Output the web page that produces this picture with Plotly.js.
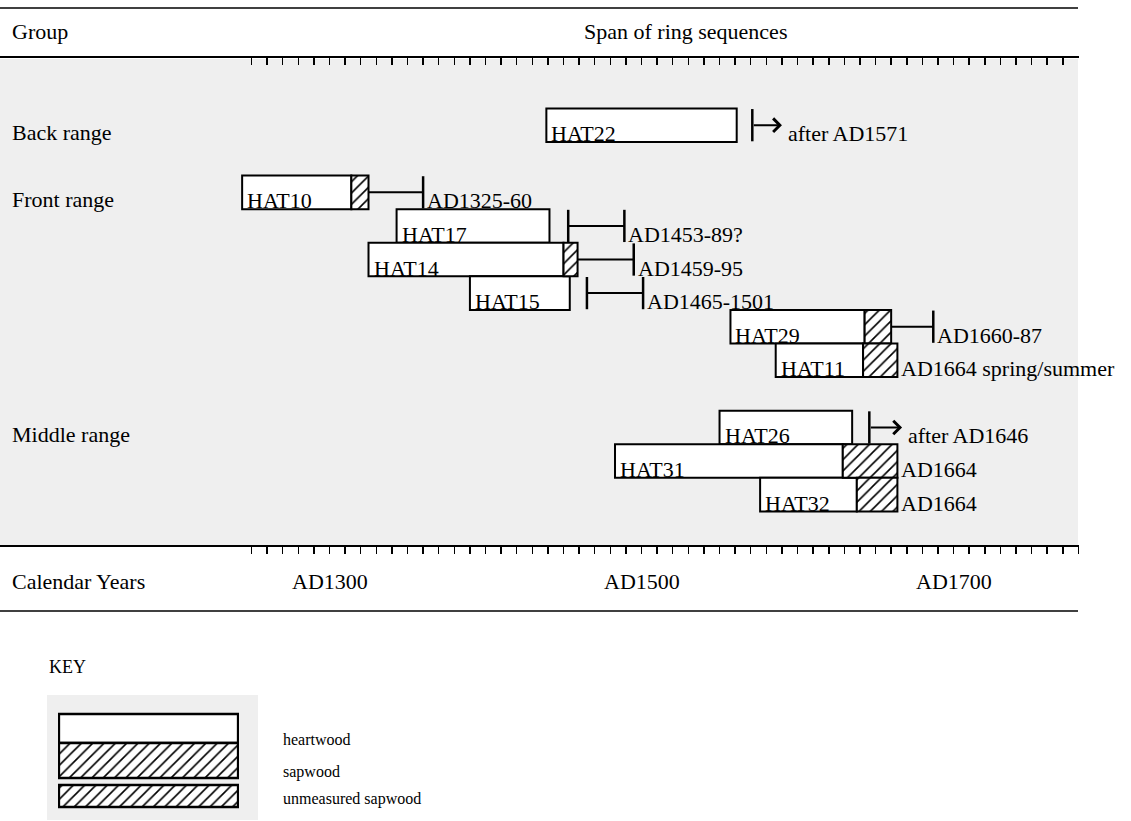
<!DOCTYPE html>
<html>
<head>
<meta charset="utf-8">
<script src="https://cdn.plot.ly/plotly-3.0.1.min.js"></script>
<style>
html,body{margin:0;padding:0;background:#fff;}
#chart{width:1131px;height:821px;}
</style>
</head>
<body>
<div id="chart"></div>
<script>
// ---------------- data ----------------
const samples    = ['HAT22','HAT10','HAT17','HAT14','HAT15','HAT29','HAT11','HAT26','HAT31','HAT32'];
const rowPos     = [0, 2, 3, 4, 5, 6, 7, 9, 10, 11];
const startYear  = [1439, 1244, 1343, 1325, 1390, 1557, 1586, 1550, 1483, 1576];
const heartEnd   = [1561, 1314, 1441, 1450, 1454, 1643, 1642, 1635, 1629, 1638];
const sapEnd     = [1561, 1325, 1441, 1459, 1454, 1660, 1664, 1635, 1664, 1664];
const rangeStart = [1571, 1325, 1453, 1459, 1465, 1660, null, 1646, null, null];
const rangeEnd   = [1590, 1360, 1489, 1495, 1501, 1687, null, 1667, null, null];
const startTick  = [true, false, true, false, true, false, false, true, false, false];
const endKind    = ['arrow','bar','bar','bar','bar','bar', null, 'arrow', null, null];
const dateLabels = ['after AD1571','AD1325-60','AD1453-89?','AD1459-95','AD1465-1501','AD1660-87',
                    'AD1664 spring/summer','after AD1646','AD1664','AD1664'];
const groupNames = ['Back range','Front range','Middle range'];
const groupRows  = [0, 2, 9];
const axisLabelYears = [1300, 1500, 1700];
const axisLabelText  = ['AD1300','AD1500','AD1700'];
const keyLabels  = ['heartwood','sapwood','unmeasured sapwood'];
const keyHatched = [false, true, true];

// ---------------- layout constants ----------------
const W = 1131, H = 821;
const px = v => v / W;            // pixel -> paper x
const py = v => (H - v) / H;      // pixel -> paper y
const FONT = '"Liberation Serif", "Times New Roman", Times, serif';
const BG = '#efefef';
const hatch = {shape: '/', fgcolor: '#000', bgcolor: '#fff', size: 8, solidity: 0.2};

const majorTicks = [], minorTicks = [];
for (let y = 1250; y <= 1750; y += 50) majorTicks.push(y);
for (let y = 1250; y <= 1780; y += 10) minorTicks.push(y);

// ---------------- traces ----------------
const traces = [];
// heartwood
traces.push({
  type: 'bar', orientation: 'h', xaxis: 'x', yaxis: 'y',
  y: rowPos, base: startYear, x: startYear.map((s, i) => heartEnd[i] - s),
  width: 1, marker: {color: '#fff', line: {color: '#000', width: 2}},
  hoverinfo: 'skip', showlegend: false
});
// sapwood
const sapIdx = samples.map((_, i) => i).filter(i => sapEnd[i] > heartEnd[i]);
traces.push({
  type: 'bar', orientation: 'h', xaxis: 'x', yaxis: 'y',
  y: sapIdx.map(i => rowPos[i]), base: sapIdx.map(i => heartEnd[i]),
  x: sapIdx.map(i => sapEnd[i] - heartEnd[i]),
  width: 1, marker: {color: '#fff', pattern: hatch, line: {color: '#000', width: 2}},
  hoverinfo: 'skip', showlegend: false
});
// connectors and range ticks
const hx = [], hy = [], vx = [], vy = [];
samples.forEach((s, i) => {
  if (rangeStart[i] === null) return;
  const r = rowPos[i];
  if (endKind[i] === 'bar') { hx.push(rangeStart[i], rangeEnd[i], null); hy.push(r, r, null); }
  if (startTick[i]) { vx.push(rangeStart[i], rangeStart[i], null); vy.push(r - 0.48, r + 0.48, null); }
  if (endKind[i] === 'bar') { vx.push(rangeEnd[i], rangeEnd[i], null); vy.push(r - 0.48, r + 0.48, null); }
});
traces.push({type: 'scatter', mode: 'lines', xaxis: 'x2', yaxis: 'y', x: hx, y: hy,
  line: {color: '#000', width: 2}, hoverinfo: 'skip', showlegend: false, cliponaxis: false});
traces.push({type: 'scatter', mode: 'lines', xaxis: 'x', yaxis: 'y', x: vx, y: vy,
  line: {color: '#000', width: 2.5}, hoverinfo: 'skip', showlegend: false, cliponaxis: false});

// key swatches
const KEY = {yc: [728.5, 760.5, 796], h: [29, 35, 22]};
keyLabels.forEach((k, i) => {
  traces.push({
    type: 'bar', orientation: 'h', xaxis: 'x3', yaxis: 'y3',
    y: [KEY.yc[i]], base: [0], x: [1], width: [KEY.h[i]],
    marker: keyHatched[i] ? {color: '#fff', pattern: hatch, line: {color: '#000', width: 2.5}}
                          : {color: '#fff', line: {color: '#000', width: 2.5}},
    hoverinfo: 'skip', showlegend: false
  });
});

// ---------------- annotations ----------------
const ann = [];
const txt = (text, opts, size) => Object.assign({text, showarrow: false,
  font: {family: FONT, size: size || 22, color: '#000'}}, opts);
const TXT_SHIFT = -8.5;

samples.forEach((s, i) => {
  ann.push(txt(s, {xref: 'x', yref: 'y', x: startYear[i], y: rowPos[i], xanchor: 'left',
    yanchor: 'middle', xshift: 3, yshift: TXT_SHIFT}));
  const endX = rangeEnd[i] !== null ? rangeEnd[i] : sapEnd[i];
  ann.push(txt(dateLabels[i], {xref: 'x', yref: 'y', x: endX, y: rowPos[i], xanchor: 'left',
    yanchor: 'middle', xshift: endKind[i] === 'arrow' ? 4 : 2, yshift: TXT_SHIFT}));
  if (endKind[i] === 'arrow') {
    ann.push({xref: 'x', yref: 'y', axref: 'x', ayref: 'y', x: rangeEnd[i], y: rowPos[i],
      ax: rangeStart[i], ay: rowPos[i], text: '', showarrow: true, arrowhead: 4,
      arrowsize: 1.3, arrowwidth: 2, arrowcolor: '#000', standoff: 0, startstandoff: 0});
  }
});
groupNames.forEach((g, i) => {
  ann.push(txt(g, {xref: 'paper', yref: 'y', x: px(10), y: groupRows[i], xanchor: 'left',
    yanchor: 'middle', yshift: TXT_SHIFT + 1}));
});
ann.push(txt('Group', {xref: 'paper', yref: 'paper', x: px(10), y: py(32), xanchor: 'left', yanchor: 'middle'}));
ann.push(txt('Span of ring sequences', {xref: 'paper', yref: 'paper', x: px(685), y: py(32), xanchor: 'center', yanchor: 'middle'}));
ann.push(txt('Calendar Years', {xref: 'paper', yref: 'paper', x: px(10), y: py(581), xanchor: 'left', yanchor: 'middle'}));
axisLabelYears.forEach((yv, i) => {
  ann.push(txt(axisLabelText[i], {xref: 'x', yref: 'paper', x: yv, y: py(581), xanchor: 'center', yanchor: 'middle'}));
});
ann.push(txt('KEY', {xref: 'paper', yref: 'paper', x: px(47), y: py(667), xanchor: 'left', yanchor: 'middle'}, 18));
const keyTextY = [739, 772, 799];
keyLabels.forEach((k, i) => {
  ann.push(txt(k, {xref: 'paper', yref: 'paper', x: px(281), y: py(keyTextY[i]), xanchor: 'left', yanchor: 'middle'}, 16));
});

// ---------------- shapes ----------------
const shapes = [
  {type: 'rect', xref: 'paper', yref: 'paper', x0: 0, x1: px(1078), y0: py(545), y1: py(59),
   fillcolor: BG, line: {width: 0}, layer: 'below'},
  {type: 'rect', xref: 'paper', yref: 'paper', x0: px(47), x1: px(258), y0: py(820), y1: py(695),
   fillcolor: BG, line: {width: 0}, layer: 'below'},
  {type: 'line', xref: 'paper', yref: 'paper', x0: 0, x1: px(1078), y0: py(8), y1: py(8),
   line: {color: '#000', width: 1.5}},
  {type: 'line', xref: 'paper', yref: 'paper', x0: 0, x1: px(1078), y0: py(611), y1: py(611),
   line: {color: '#000', width: 1.5}}
];

const XR = [1088.8, 1780.4];
const tickCfg = {
  tickmode: 'array', tickvals: majorTicks, ticktext: majorTicks.map(() => ''),
  ticklen: 10, tickwidth: 1.5, tickcolor: '#000', showticklabels: false,
  showline: true, linecolor: '#000', linewidth: 2, showgrid: false, zeroline: false,
  range: XR, fixedrange: true
};
const minorCfg = dir => ({tickmode: 'array', tickvals: minorTicks, ticks: dir, ticklen: 7,
  tickwidth: 1.5, tickcolor: '#000', showgrid: false});

const layout = {
  width: W, height: H,
  margin: {l: 0, r: 0, t: 0, b: 0, pad: 0},
  paper_bgcolor: '#fff', plot_bgcolor: 'rgba(0,0,0,0)',
  barmode: 'overlay', showlegend: false,
  xaxis: Object.assign({}, tickCfg, {domain: [0, px(1079)], anchor: 'y', side: 'bottom', ticks: 'outside',
    minor: minorCfg('outside')}),
  xaxis2: Object.assign({}, tickCfg, {overlaying: 'x', anchor: 'y', side: 'top', ticks: 'inside',
    minor: minorCfg('inside')}),
  yaxis: {domain: [py(545), py(58)], range: [12.5, -2.0], visible: false, showgrid: false, zeroline: false, fixedrange: true},
  xaxis3: {domain: [px(58), px(239)], anchor: 'y3', range: [-0.005, 1.005], visible: false, showgrid: false, zeroline: false},
  yaxis3: {domain: [py(810), py(710)], anchor: 'x3', range: [810, 710], visible: false, showgrid: false, zeroline: false},
  annotations: ann,
  shapes: shapes
};

Plotly.newPlot('chart', traces, layout, {staticPlot: true, displayModeBar: false});
</script>
</body>
</html>
